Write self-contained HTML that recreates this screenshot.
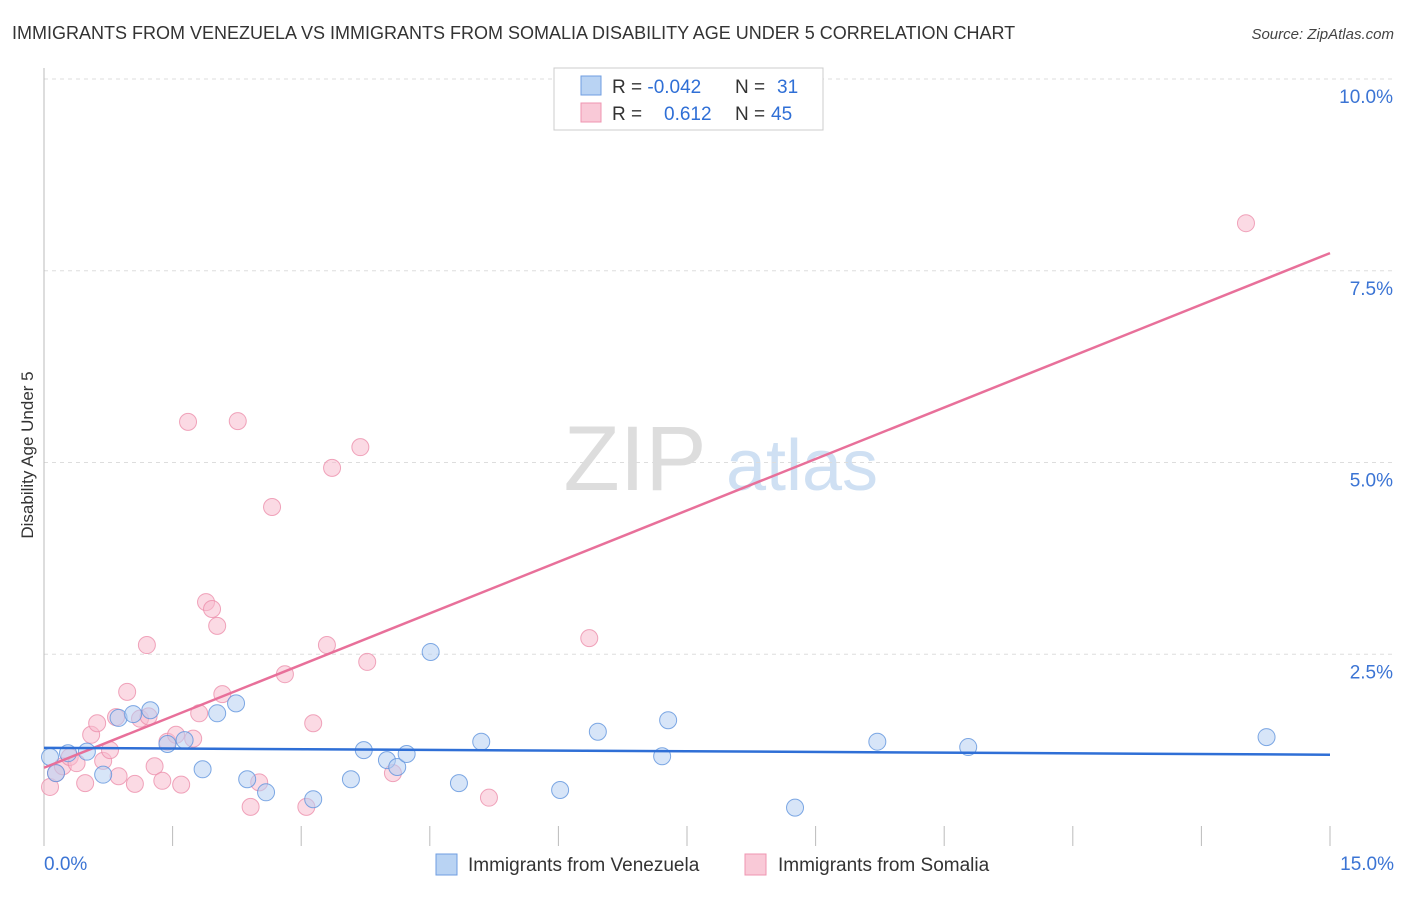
<!DOCTYPE html>
<html><head><meta charset="utf-8"><style>
body{margin:0;background:#fff;font-family:"Liberation Sans",sans-serif;}
svg text{font-family:"Liberation Sans",sans-serif;}
</style></head><body>
<svg id="c" width="1406" height="892">
<text x="12" y="39" font-size="18" fill="#333">IMMIGRANTS FROM VENEZUELA VS IMMIGRANTS FROM SOMALIA DISABILITY AGE UNDER 5 CORRELATION CHART</text>
<text x="1394" y="39" font-size="15" fill="#444" font-style="italic" text-anchor="end">Source: ZipAtlas.com</text>
<text transform="translate(33,455) rotate(-90)" font-size="17" fill="#333" text-anchor="middle">Disability Age Under 5</text>
<g><text x="635" y="490" font-size="92" fill="#ddd" font-family="Liberation Serif" text-anchor="middle">ZIP</text><text x="802" y="490" font-size="72" fill="#cfe0f3" text-anchor="middle">atlas</text></g>
<g id="grid"></g><g id="axes"></g><g id="marks"></g>
<g>
<rect x="554" y="68" width="269" height="62" fill="#fff" stroke="#ccc"/>
<rect x="581" y="76" width="20" height="19" fill="#b9d3f3" stroke="#6f9ee0"/>
<rect x="581" y="103" width="20" height="19" fill="#f9c9d7" stroke="#ef95b0"/>
<text x="612" y="93" font-size="19" fill="#333">R = <tspan fill="#2f6fd6">-0.042</tspan>  <tspan x="735">N = </tspan><tspan x="777" fill="#2f6fd6">31</tspan></text>
<text x="612" y="120" font-size="19" fill="#333">R = <tspan x="664" fill="#2f6fd6">0.612</tspan><tspan x="735">N = </tspan><tspan x="771" fill="#2f6fd6">45</tspan></text>
</g>
<g>
<rect x="436" y="854" width="21" height="21" fill="#b9d3f3" stroke="#6f9ee0"/>
<text x="468" y="871" font-size="19" fill="#333">Immigrants from Venezuela</text>
<rect x="745" y="854" width="21" height="21" fill="#f9c9d7" stroke="#ef95b0"/>
<text x="778" y="871" font-size="19" fill="#333">Immigrants from Somalia</text>
</g>
</svg>
<script>
const yTicks=[2.5,5,7.5,10];
const yTickLabels=["2.5%","5.0%","7.5%","10.0%"];
const xTickLabels=["0.0%","15.0%"];
const venX=[0.07,0.14,0.28,0.50,0.69,0.87,1.04,1.24,1.44,1.64,1.85,2.02,2.24,2.37,2.59,3.14,3.58,3.73,4.00,4.12,4.23,4.51,4.84,5.10,6.02,6.46,7.21,7.28,8.76,9.72,10.78,14.26];
const venY=[1.16,0.95,1.21,1.23,0.93,1.67,1.72,1.77,1.33,1.38,1.00,1.73,1.86,0.87,0.70,0.61,0.87,1.25,1.12,1.03,1.20,2.53,0.82,1.36,0.73,1.49,1.17,1.64,0.50,1.36,1.29,1.42];
const somX=[0.07,0.14,0.22,0.30,0.38,0.48,0.55,0.62,0.69,0.77,0.84,0.87,0.97,1.06,1.12,1.20,1.22,1.29,1.38,1.44,1.54,1.60,1.68,1.74,1.81,1.89,1.96,2.02,2.08,2.26,2.41,2.51,2.66,2.81,3.06,3.14,3.30,3.36,3.69,3.77,4.07,5.19,6.36,14.02];
const somY=[0.77,0.95,1.04,1.16,1.08,0.82,1.45,1.60,1.11,1.25,1.68,0.91,2.01,0.81,1.66,2.62,1.69,1.04,0.85,1.36,1.45,0.80,5.53,1.40,1.73,3.18,3.09,2.87,1.98,5.54,0.51,0.83,4.42,2.24,0.51,1.60,2.62,4.93,5.20,2.40,0.95,0.63,2.71,8.12];
const venLine=[1.28,1.19];
const somLine=[1.02,7.73];
const X0=44,X1=1330,Y0=846,Y10=79;
const sx=v=>X0+(v/15)*(X1-X0);
const sy=v=>Y0-(v/10)*(Y0-Y10);
const NS="http://www.w3.org/2000/svg";
function mk(tag,attrs,parent){const e=document.createElementNS(NS,tag);for(const k in attrs)e.setAttribute(k,attrs[k]);parent.appendChild(e);return e;}
const grid=document.getElementById('grid'),axes=document.getElementById('axes'),marks=document.getElementById('marks');
yTicks.forEach((t,i)=>{
 const l=mk('line',{x1:X0,x2:1394,y1:sy(t),y2:sy(t),stroke:'#ddd','stroke-dasharray':'4,4'},grid);
 
 
 const tx=mk('text',{x:1393,y:sy(t)+24,'font-size':19,fill:'#3b74d4','text-anchor':'end'},axes);
 tx.textContent=yTickLabels[i];
 
 
});
const ax=mk('line',{x1:X0,x2:X0,y1:68,y2:Y0,stroke:'#bbb'},axes);


for(let i=0;i<=10;i++){
 const t=mk('line',{x1:sx(i*1.5),x2:sx(i*1.5),y1:826,y2:Y0,stroke:'#bbb'},axes);
 
 
}
const xl0=mk('text',{x:44,y:870,'font-size':19,fill:'#3b74d4'},axes);xl0.textContent=xTickLabels[0];


const xl1=mk('text',{x:1394,y:870,'font-size':19,fill:'#3b74d4','text-anchor':'end'},axes);xl1.textContent=xTickLabels[1];


function pts(xs,ys,fill,stroke,name){
 xs.forEach((x,i)=>{
  const c=mk('circle',{cx:sx(x),cy:sy(ys[i]),r:8.5,fill:fill,'fill-opacity':0.55,stroke:stroke,'stroke-opacity':0.8,'stroke-width':1},marks);
  
  
 });
}
pts(somX,somY,'#f7bccd','#ec8fab','point-somalia');
pts(venX,venY,'#b6d0f2','#5f93dd','point-venezuela');
const l1=mk('line',{x1:sx(0),y1:sy(somLine[0]),x2:sx(15),y2:sy(somLine[1]),stroke:'#e8709a','stroke-width':2.5},marks);


const l2=mk('line',{x1:sx(0),y1:sy(venLine[0]),x2:sx(15),y2:sy(venLine[1]),stroke:'#2f6fd6','stroke-width':2.5},marks);


</script>
</body></html>
